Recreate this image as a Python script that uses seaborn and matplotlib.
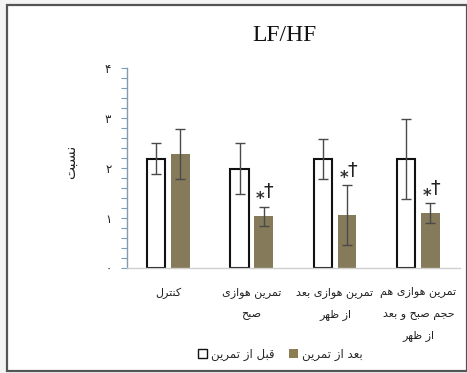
import matplotlib
matplotlib.use("Agg")
import matplotlib.pyplot as plt
from matplotlib.patches import Patch, Rectangle
from matplotlib.ticker import MultipleLocator, FixedLocator
import numpy as np
import pandas as pd
import seaborn as sns

# ---- data -------------------------------------------------------------
groups = [
    "کنترل",
    "تمرین هوازی\nصبح",
    "تمرین هوازی بعد\nاز ظهر",
    "تمرین هوازی هم\nحجم صبح و بعد\nاز ظهر",
]
phases = ["قبل از تمرین", "بعد از تمرین"]
before_mean = [2.18, 1.98, 2.18, 2.18]
before_sd = [0.31, 0.51, 0.40, 0.80]
after_mean = [2.27, 1.03, 1.05, 1.09]
after_sd = [0.50, 0.19, 0.60, 0.20]
significant = [False, True, True, True]
y_ticks = [0, 1, 2, 3, 4]
y_tick_labels = ["۰", "۱", "۲", "۳", "۴"]
y_label = "نسبت"
title = "LF/HF"

# ---- minimal Arabic-script shaping (contextual forms + RTL order) -----
FORMS = {
    "ا": ("\uFE8D", "\uFE8E", None, None),
    "ب": ("\uFE8F", "\uFE90", "\uFE91", "\uFE92"),
    "ت": ("\uFE95", "\uFE96", "\uFE97", "\uFE98"),
    "ج": ("\uFE9D", "\uFE9E", "\uFE9F", "\uFEA0"),
    "ح": ("\uFEA1", "\uFEA2", "\uFEA3", "\uFEA4"),
    "د": ("\uFEA9", "\uFEAA", None, None),
    "ر": ("\uFEAD", "\uFEAE", None, None),
    "ز": ("\uFEAF", "\uFEB0", None, None),
    "س": ("\uFEB1", "\uFEB2", "\uFEB3", "\uFEB4"),
    "ص": ("\uFEB9", "\uFEBA", "\uFEBB", "\uFEBC"),
    "ظ": ("\uFEC5", "\uFEC6", "\uFEC7", "\uFEC8"),
    "ع": ("\uFEC9", "\uFECA", "\uFECB", "\uFECC"),
    "ق": ("\uFED5", "\uFED6", "\uFED7", "\uFED8"),
    "ک": ("\uFED9", "\uFEDA", "\uFEDB", "\uFEDC"),
    "ل": ("\uFEDD", "\uFEDE", "\uFEDF", "\uFEE0"),
    "م": ("\uFEE1", "\uFEE2", "\uFEE3", "\uFEE4"),
    "ن": ("\uFEE5", "\uFEE6", "\uFEE7", "\uFEE8"),
    "ه": ("\uFEE9", "\uFEEA", "\uFEEB", "\uFEEC"),
    "و": ("\uFEED", "\uFEEE", None, None),
    "ی": ("\uFEEF", "\uFEF0", "\uFEF3", "\uFEF4"),
}


def shape_line(text):
    out = []
    n = len(text)
    for i, c in enumerate(text):
        f = FORMS.get(c)
        if f is None:
            out.append(c)
            continue
        prev = text[i - 1] if i > 0 else None
        nxt = text[i + 1] if i < n - 1 else None
        join_prev = prev in FORMS and FORMS[prev][2] is not None
        join_next = f[2] is not None and nxt in FORMS
        if join_prev and join_next:
            out.append(f[3])
        elif join_prev:
            out.append(f[1])
        elif join_next:
            out.append(f[2])
        else:
            out.append(f[0])
    return "".join(reversed(out))


def shape(text):
    return "\n".join(shape_line(t) for t in text.split("\n"))


# ---- style ------------------------------------------------------------
sns.set_theme(style="white")
plt.rcParams["font.family"] = ["DejaVu Sans"]

WHITE = "#ffffff"
OLIVE = "#8c7e52"
ERR = "#4a4a4a"

df = pd.DataFrame({
    "group": groups * 2,
    "phase": [phases[0]] * 4 + [phases[1]] * 4,
    "value": before_mean + after_mean,
})

fig = plt.figure(figsize=(4.67, 3.73), dpi=100, facecolor="#f4f4f4")
fig.add_artist(Rectangle((0.015, 0.006), 0.985, 0.98, transform=fig.transFigure,
                         facecolor="white", edgecolor="#555555", lw=1.6, zorder=0))
ax = fig.add_axes([0.271, 0.2815, 0.714, 0.537])
ax.patch.set_alpha(0)

sns.barplot(data=df, x="group", y="value", hue="phase", order=groups,
            hue_order=phases, palette=[WHITE, OLIVE], errorbar=None,
            width=0.58, gap=0.24, legend=False, ax=ax)

sds = [before_sd, after_sd]
bar_containers = list(ax.containers)
tops = []
for k, cont in enumerate(bar_containers):
    xs = [b.get_x() + b.get_width() / 2 for b in cont]
    hs = [b.get_height() for b in cont]
    for b in cont:
        if k == 0:
            b.set_edgecolor("#111111")
            b.set_linewidth(1.5)
        else:
            b.set_edgecolor("none")
    ax.errorbar(xs, hs, yerr=sds[k], fmt="none", ecolor=ERR, elinewidth=1.0,
                capsize=3.6, capthick=1.0, zorder=5)
    tops.append((xs, [h + s for h, s in zip(hs, sds[k])]))

# significance markers above the post-training bars
post_xs, post_tops = tops[1]
for x, t, sig in zip(post_xs, post_tops, significant):
    if sig:
        ax.text(x - 0.04, t + 0.05, "*", ha="center", va="baseline",
                fontsize=12, fontweight="bold", color="#333333")
        ax.text(x + 0.06, t + 0.3, "†", ha="center", va="center",
                fontsize=14, color="#222222")

ax.set_xlim(-0.5, 3.5)
ax.set_ylim(0, 4)
ax.yaxis.set_major_locator(FixedLocator(y_ticks))
ax.set_yticklabels(y_tick_labels, fontsize=8.5, color="#222222")
ax.yaxis.set_minor_locator(MultipleLocator(0.2))
ax.tick_params(axis="y", which="both", direction="out", length=4, width=0.8,
               color="#7f9bb5", left=True, pad=7)
ax.tick_params(axis="x", length=0, pad=14)
ax.set_xticks(range(len(groups)))
ax.set_xticklabels([shape(g) for g in groups], fontsize=8, color="#222222",
                   linespacing=2.3, multialignment="center", va="top")
ax.set_xlabel("")
ax.set_ylabel(shape(y_label), fontsize=10, color="#222222")
ax.yaxis.set_label_coords(-0.145, 0.53)

for side in ["top", "right"]:
    ax.spines[side].set_visible(False)
ax.spines["left"].set_color("#7f9bb5")
ax.spines["left"].set_linewidth(1.0)
ax.spines["bottom"].set_color("#cfcfcf")
ax.spines["bottom"].set_linewidth(1.0)

fig.text(0.61, 0.905, title, ha="center", va="center", fontsize=17,
         family="Liberation Serif", color="#111111")

handles = [Patch(facecolor=WHITE, edgecolor="#111111", lw=1.0),
           Patch(facecolor=OLIVE, edgecolor="none")]
fig.legend(handles, [shape(p) for p in phases], loc="center",
           bbox_to_anchor=(0.6, 0.05), ncol=2, frameon=False, fontsize=8.5,
           handlelength=0.8, handleheight=0.8, handletextpad=0.3,
           columnspacing=1.2)

fig.savefig("out.png", dpi=100, facecolor=fig.get_facecolor())
